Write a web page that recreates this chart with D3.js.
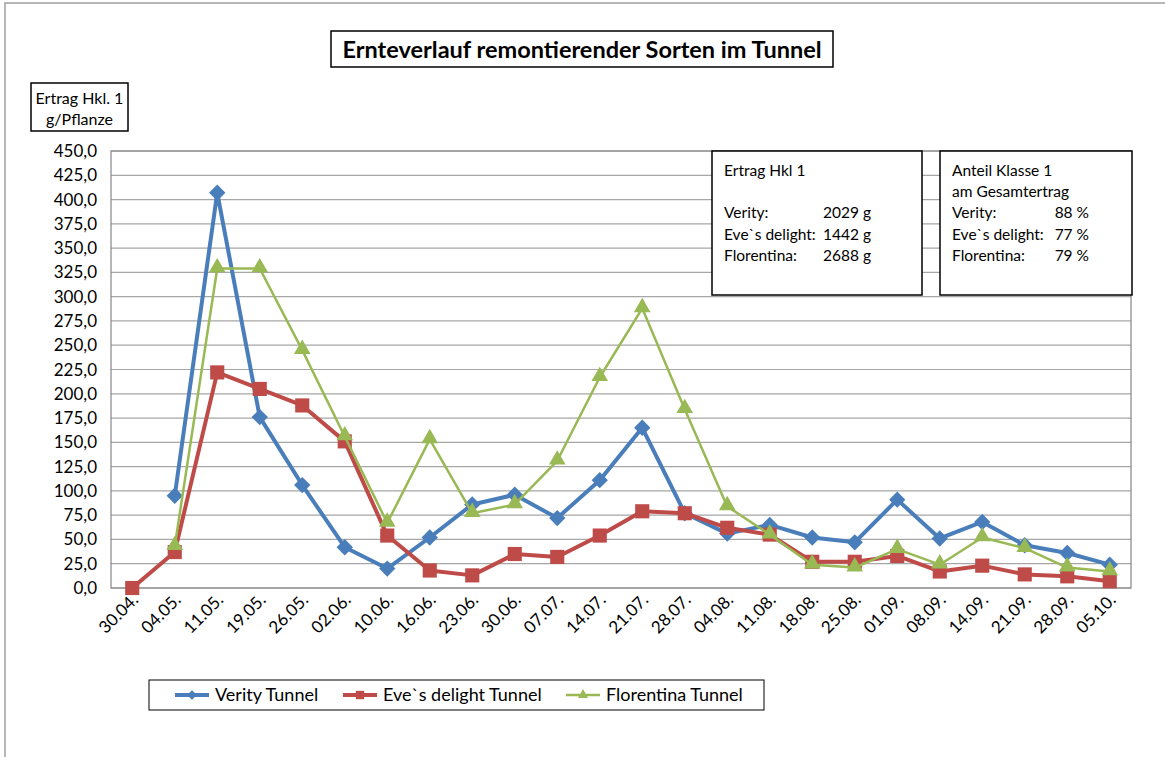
<!DOCTYPE html>
<html>
<head>
<meta charset="utf-8">
<script src="https://cdn.jsdelivr.net/npm/d3@7"></script>
<style>
  body { margin: 0; background: #fff; }
  svg text { font-family: Lato, "Open Sans", sans-serif; fill: #000; }
</style>
</head>
<body>
<div id="chart"></div>
<script>
const dates = ['30.04.','04.05.','11.05.','19.05.','26.05.','02.06.','10.06.','16.06.','23.06.','30.06.','07.07.','14.07.','21.07.','28.07.','04.08.','11.08.','18.08.','25.08.','01.09.','08.09.','14.09.','21.09.','28.09.','05.10.'];
const verity = [null, 95, 407, 176, 106, 42, 20, 52, 86, 96, 72, 111, 165, 77, 56, 65, 52, 47, 91, 51, 68, 44, 36, 24];
const eve = [0, 37, 222, 205, 188, 151, 54, 18, 13, 35, 32, 54, 79, 77, 62, 55, 27, 27, 33, 17, 23, 14, 12, 7];
const florentina = [null, 43, 329, 329, 245, 156, 67, 153, 77, 86, 131, 217, 288, 184, 84, 55, 24, 21, 40, 24, 52, 41, 21, 17];
const yTicks = [0, 25, 50, 75, 100, 125, 150, 175, 200, 225, 250, 275, 300, 325, 350, 375, 400, 425, 450];

const seriesNames = ['Verity Tunnel', 'Eve`s delight Tunnel', 'Florentina Tunnel'];
const box1Lines = ['Ertrag Hkl 1', '', 'Verity:', 'Eve`s delight:', 'Florentina:'];
const box1Values = ['', '', '2029 g', '1442 g', '2688 g'];
const box2Lines = ['Anteil Klasse 1', 'am Gesamtertrag', 'Verity:', 'Eve`s delight:', 'Florentina:'];
const box2Values = ['', '', '88 %', '77 %', '79 %'];

const W = 1165, H = 757;
const plot = {left: 111, right: 1131, top: 151, bottom: 588};

const svg = d3.select('#chart').append('svg')
    .attr('width', W)
    .attr('height', H);

// outer chart border (cut off on right and bottom)
svg.append('rect')
    .attr('x', 5).attr('y', 3)
    .attr('width', W + 20).attr('height', H + 20)
    .attr('fill', 'none')
    .attr('stroke', '#a0a0a0')
    .attr('stroke-width', 1.5);

var xScale = d3.scaleBand()
    .domain(dates)
    .range([plot.left, plot.right]);

var yScale = d3.scaleLinear()
    .domain([0, 450])
    .range([plot.bottom, plot.top]);

// gridlines
svg.append('g')
    .selectAll('line')
    .data(yTicks)
    .enter()
    .append('line')
    .attr('x1', plot.left)
    .attr('x2', plot.right)
    .attr('y1', function(d){ return yScale(d); })
    .attr('y2', function(d){ return yScale(d); })
    .attr('stroke', '#a6a6a6')
    .attr('stroke-width', 1.2);

svg.append('rect')
    .attr('x', plot.left).attr('y', plot.top)
    .attr('width', plot.right - plot.left)
    .attr('height', plot.bottom - plot.top)
    .attr('fill', 'none')
    .attr('stroke', '#868686')
    .attr('stroke-width', 1.2);

// y axis labels
svg.append('g')
    .selectAll('text')
    .data(yTicks)
    .enter()
    .append('text')
    .attr('x', 97)
    .attr('y', function(d){ return yScale(d) + 6; })
    .attr('text-anchor', 'end')
    .attr('font-size', 17)
    .text(function(d){ return d3.format('.1f')(d).replace('.', ','); });

// x axis labels
svg.append('g')
    .selectAll('text')
    .data(dates)
    .enter()
    .append('text')
    .attr('transform', function(d){
        var x = xScale(d) + xScale.bandwidth() / 2;
        return 'translate(' + (x + 7) + ',' + 601 + ') rotate(-45)';
    })
    .attr('text-anchor', 'end')
    .attr('font-size', 17)
    .text(function(d){ return d; });

const colors = ['#4a7ebb', '#be4b48', '#98b954'];
const widths = [4, 4, 2.5];
const allSeries = [verity, eve, florentina];

const symbols = [
    d3.symbol().type(d3.symbolDiamond2).size(170),
    d3.symbol().type(d3.symbolSquare).size(200),
    d3.symbol().type(d3.symbolTriangle).size(120)
];

function cx(i){ return xScale(dates[i]) + xScale.bandwidth() / 2; }

allSeries.forEach(function(vals, s){
    var line = d3.line()
        .defined(function(d){ return d != null; })
        .x(function(d, i){ return cx(i); })
        .y(function(d){ return yScale(d); });

    var g = svg.append('g');
    g.append('path')
        .datum(vals)
        .attr('d', line)
        .attr('fill', 'none')
        .attr('stroke', colors[s])
        .attr('stroke-width', widths[s])
        .attr('stroke-linejoin', 'round');

    var pts = vals.map(function(v, i){ return {v: v, i: i}; })
                  .filter(function(d){ return d.v != null; });
    g.selectAll('path.mark')
        .data(pts)
        .enter()
        .append('path')
        .attr('class', 'mark')
        .attr('d', symbols[s])
        .attr('transform', function(d){
            var dy = s == 2 ? -1 : 0;
            return 'translate(' + cx(d.i) + ',' + (yScale(d.v) + dy) + ')';
        })
        .attr('fill', colors[s]);
});

// title
svg.append('rect')
    .attr('x', 331).attr('y', 31)
    .attr('width', 502).attr('height', 36)
    .attr('fill', '#fff')
    .attr('stroke', '#000')
    .attr('stroke-width', 1.5);
svg.append('text')
    .attr('x', 582).attr('y', 58)
    .attr('text-anchor', 'middle')
    .attr('font-size', 23.5)
    .attr('font-weight', 'bold')
    .text('Ernteverlauf remontierender Sorten im Tunnel');

// y axis title box
svg.append('rect')
    .attr('x', 31).attr('y', 83)
    .attr('width', 97).attr('height', 48)
    .attr('fill', '#fff')
    .attr('stroke', '#000')
    .attr('stroke-width', 1.5);
svg.append('text')
    .attr('x', 79.5).attr('y', 104)
    .attr('text-anchor', 'middle')
    .attr('font-size', 16)
    .text('Ertrag Hkl. 1');
svg.append('text')
    .attr('x', 79.5).attr('y', 125)
    .attr('text-anchor', 'middle')
    .attr('font-size', 16)
    .text('g/Pflanze');

// info boxes
function infoBox(x, w, labels, values, valX){
    svg.append('rect')
        .attr('x', x).attr('y', 151)
        .attr('width', w).attr('height', 144)
        .attr('fill', '#fff')
        .attr('stroke', '#000')
        .attr('stroke-width', 1.5);
    labels.forEach(function(t, i){
        svg.append('text')
            .attr('x', x + 12)
            .attr('y', 176 + i * 21.2)
            .attr('font-size', 15.5)
            .text(t);
        if(values[i]){
            svg.append('text')
                .attr('x', valX)
                .attr('y', 176 + i * 21.2)
                .attr('text-anchor', 'end')
                .attr('font-size', 15.5)
                .text(values[i]);
        }
    });
}
infoBox(712, 210, box1Lines, box1Values, 871);
infoBox(940, 192, box2Lines, box2Values, 1089);

// legend
svg.append('rect')
    .attr('x', 149).attr('y', 680)
    .attr('width', 615).attr('height', 30)
    .attr('fill', '#fff')
    .attr('stroke', '#000')
    .attr('stroke-width', 1);
const legendX = [175, 343, 566];
seriesNames.forEach(function(name, s){
    var lg = svg.append('g');
    lg.append('line')
        .attr('x1', legendX[s]).attr('x2', legendX[s] + 34)
        .attr('y1', 695).attr('y2', 695)
        .attr('stroke', colors[s])
        .attr('stroke-width', widths[s]);
    lg.append('path')
        .attr('d', d3.symbol().type([d3.symbolDiamond2, d3.symbolSquare, d3.symbolTriangle][s]).size([60, 70, 45][s]))
        .attr('transform', 'translate(' + (legendX[s] + 17) + ',695)')
        .attr('fill', colors[s]);
    lg.append('text')
        .attr('x', legendX[s] + 40)
        .attr('y', 701)
        .attr('font-size', 18)
        .text(name);
});
</script>
</body>
</html>
